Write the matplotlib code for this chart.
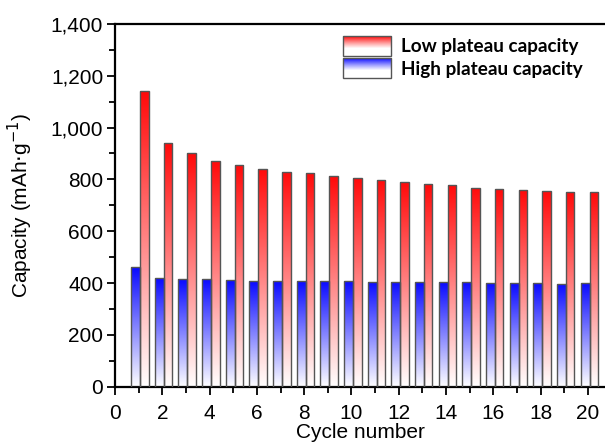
import matplotlib
matplotlib.use("Agg")
import matplotlib.pyplot as plt
import numpy as np
from matplotlib.colors import LinearSegmentedColormap
from matplotlib.legend_handler import HandlerBase
from matplotlib.image import BboxImage
from matplotlib.transforms import Bbox, TransformedBbox
from matplotlib.patches import Rectangle
from matplotlib.ticker import MultipleLocator, FuncFormatter

# data
cycles = list(range(1, 21))
low_plateau = [1141, 939, 902, 871, 856, 839, 830, 824, 814, 804,
               798, 791, 782, 779, 768, 763, 758, 755, 752, 750]
high_plateau = [463, 420, 415, 414, 412, 408, 408, 407, 408, 407,
                406, 406, 405, 405, 403, 402, 400, 399, 398, 399]

RED = LinearSegmentedColormap.from_list("red_grad", ["#ffffff", "#ff0a0a"])
BLUE = LinearSegmentedColormap.from_list("blue_grad", ["#ffffff", "#0a0aff"])
EDGE = "#555555"
GRAD = np.linspace(0, 1, 256).reshape(-1, 1)

plt.rcParams['font.family'] = ['Liberation Sans', 'DejaVu Sans']


def gradient_bars(ax, x, heights, width, cmap):
    bars = ax.bar(x, heights, width=width, facecolor='none',
                  edgecolor=EDGE, linewidth=1.0, zorder=3)
    for b in bars:
        x0 = b.get_x()
        im = ax.imshow(GRAD, cmap=cmap, origin='lower', aspect='auto',
                       extent=[x0, x0 + b.get_width(), 0, b.get_height()],
                       interpolation='bilinear', zorder=2)
        im.set_clip_path(b)
    return bars


class GradientHandler(HandlerBase):
    def __init__(self, cmap):
        super().__init__()
        self.cmap = cmap

    def create_artists(self, legend, orig_handle, xdescent, ydescent,
                       width, height, fontsize, trans):
        bb = TransformedBbox(Bbox.from_bounds(-xdescent, -ydescent, width, height), trans)
        img = BboxImage(bb, cmap=self.cmap, interpolation='bilinear', origin='lower')
        g = np.linspace(0.0, 1.0, 64) ** 1.3
        img.set_data(np.clip(g * 1.4 - 0.4, 0, 1).reshape(-1, 1))
        rect = Rectangle((-xdescent, -ydescent), width, height, facecolor='none',
                         edgecolor=EDGE, linewidth=1.0, transform=trans)
        return [img, rect]


fig = plt.figure(figsize=(6.05, 4.43), dpi=100)
ax = fig.add_axes([0.19, 0.127, 0.81, 0.819])

x = np.array(cycles)
low_bars = gradient_bars(ax, x + 0.245, low_plateau, 0.36, RED)
high_bars = gradient_bars(ax, x - 0.125, high_plateau, 0.38, BLUE)

ax.set_xlim(0, 20.72)
ax.set_ylim(0, 1400)
ax.xaxis.set_major_locator(MultipleLocator(2))
ax.xaxis.set_minor_locator(MultipleLocator(1))
ax.yaxis.set_major_locator(MultipleLocator(200))
ax.yaxis.set_minor_locator(MultipleLocator(100))
ax.yaxis.set_major_formatter(FuncFormatter(lambda v, p: f"{int(v):,}"))

for s in ['left', 'bottom', 'top']:
    ax.spines[s].set_linewidth(1.6)
ax.spines['right'].set_visible(False)
ax.tick_params(which='major', direction='out', length=5.5, width=1.3,
               labelsize=15, pad=3, top=False, right=False)
ax.tick_params(axis='x', which='major', pad=7)
ax.tick_params(which='minor', direction='out', length=4, width=1.3,
               top=False, right=False)

ax.set_xlabel("Cycle number", fontsize=15, labelpad=0)
ax.set_ylabel("Capacity (mAh$\\cdot$g$^{-1}$)", fontsize=15, labelpad=11)

leg = ax.legend([low_bars, high_bars], ["Low plateau capacity", "High plateau capacity"],
                handler_map={low_bars: GradientHandler(RED), high_bars: GradientHandler(BLUE)},
                loc='upper left', bbox_to_anchor=(0.465, 0.968), frameon=False,
                borderpad=0, borderaxespad=0, handlelength=2.55, handleheight=1.25,
                labelspacing=0.15, handletextpad=0.55,
                prop={'family': 'Lato', 'weight': 'bold', 'size': 13.6})

fig.savefig("out.png", dpi=100)
